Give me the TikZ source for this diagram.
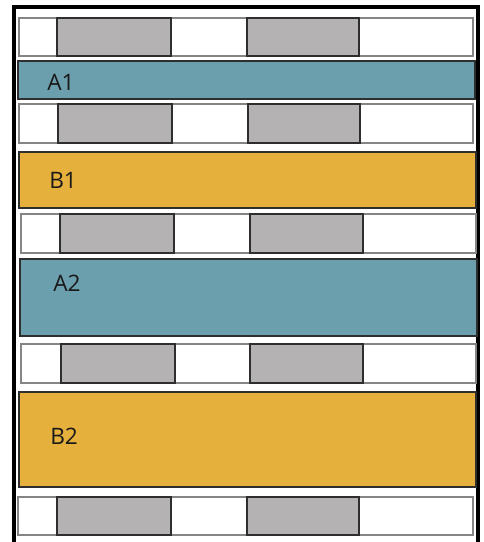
\documentclass[tikz,border=0pt]{standalone}
\usepackage{fontspec}
\setmainfont{Open Sans}
\definecolor{teal}{HTML}{6C9FAE}
\definecolor{amber}{HTML}{E6B03C}
\definecolor{slot}{HTML}{B5B2B3}
\definecolor{rowline}{HTML}{858585}
\definecolor{darkline}{HTML}{2E2E2E}
\begin{document}
\begin{tikzpicture}[x=0.75pt,y=-0.75pt,
  rowbox/.style={draw=rowline,line width=1.1pt,fill=white},
  slotbox/.style={draw=darkline,line width=1.4pt,fill=slot},
  bandA/.style={draw=darkline,line width=1.4pt,fill=teal},
  bandB/.style={draw=darkline,line width=1.4pt,fill=amber},
  lbl/.style={anchor=west,inner sep=0pt,font=\fontsize{17}{20}\selectfont,text=black!90}]
\useasboundingbox (0,0) rectangle (484,542);
% frame
\draw[line width=2.3pt,black] (14,542) -- (14,7) -- (478,7) -- (478,542);
% row 1
\draw[rowbox] (19,18) rectangle (473,56);
\draw[slotbox] (57,18) rectangle (171,56);
\draw[slotbox] (247,18) rectangle (359,56);
% A1
\draw[bandA] (18,61) rectangle (475,99);
\node[lbl] (a1) at (47,82) {A1};
% row 2
\draw[rowbox] (19,104) rectangle (473,143);
\draw[slotbox] (58,104) rectangle (172,143);
\draw[slotbox] (248,104) rectangle (360,143);
% B1
\draw[bandB] (19,152) rectangle (476,208);
\node[lbl] (b1) at (49,180) {B1};
% row 3
\draw[rowbox] (21,214) rectangle (476,253);
\draw[slotbox] (60,214) rectangle (174,253);
\draw[slotbox] (250,214) rectangle (363,253);
% A2
\draw[bandA] (20,259) rectangle (477,336);
\node[lbl] (a2) at (53,283.5) {A2};
% row 4
\draw[rowbox] (21,344) rectangle (476,383);
\draw[slotbox] (61,344) rectangle (175,383);
\draw[slotbox] (250,344) rectangle (363,383);
% B2
\draw[bandB] (19,392) rectangle (476,487);
\node[lbl] (b2) at (50,436.5) {B2};
% row 5
\draw[rowbox] (18,497) rectangle (473,535);
\draw[slotbox] (57,497) rectangle (171,535);
\draw[slotbox] (247,497) rectangle (359,535);
\end{tikzpicture}
\end{document}
